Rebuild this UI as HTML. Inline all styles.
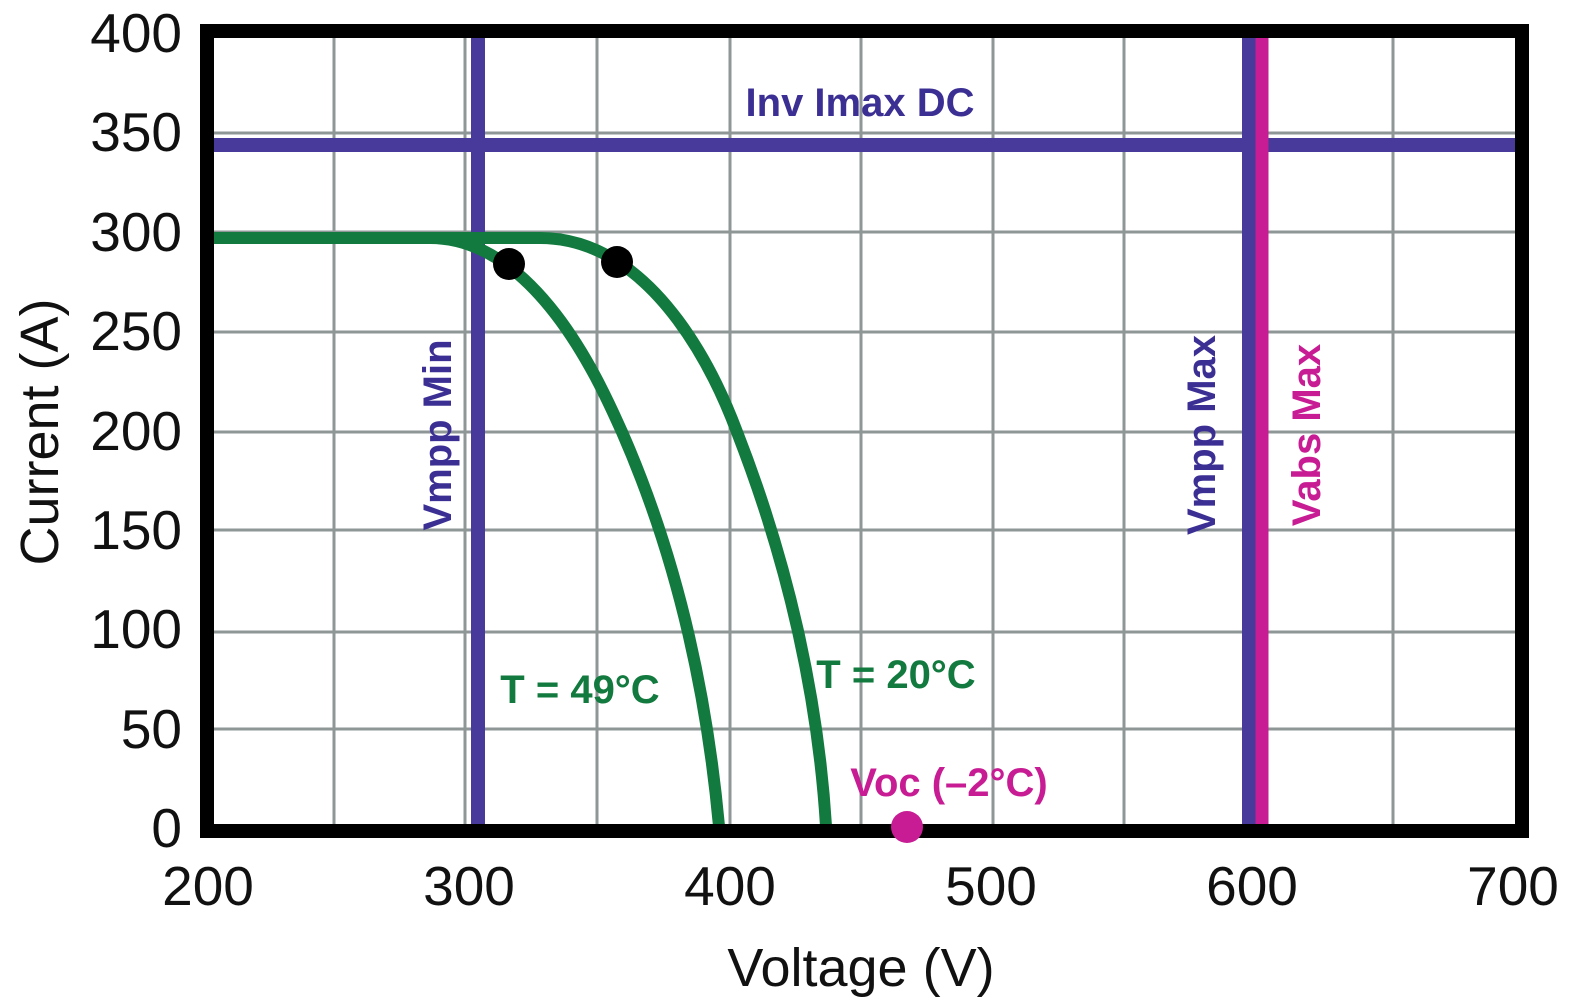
<!DOCTYPE html>
<html><head><meta charset="utf-8"><style>
html,body{margin:0;padding:0;background:#fff;}
svg{display:block;}
</style></head><body>
<svg width="1575" height="1004" viewBox="0 0 1575 1004" xmlns="http://www.w3.org/2000/svg">
<rect width="1575" height="1004" fill="#fff"/>
<g stroke="#8e9696" stroke-width="3">
<line x1="334" y1="38" x2="334" y2="824"/>
<line x1="465" y1="38" x2="465" y2="824"/>
<line x1="597" y1="38" x2="597" y2="824"/>
<line x1="730" y1="38" x2="730" y2="824"/>
<line x1="861" y1="38" x2="861" y2="824"/>
<line x1="993" y1="38" x2="993" y2="824"/>
<line x1="1124" y1="38" x2="1124" y2="824"/>
<line x1="1393" y1="38" x2="1393" y2="824"/>
<line x1="214" y1="133" x2="1515" y2="133"/>
<line x1="214" y1="232" x2="1515" y2="232"/>
<line x1="214" y1="332" x2="1515" y2="332"/>
<line x1="214" y1="432" x2="1515" y2="432"/>
<line x1="214" y1="530" x2="1515" y2="530"/>
<line x1="214" y1="632" x2="1515" y2="632"/>
<line x1="214" y1="729" x2="1515" y2="729"/>
</g>
<g stroke="#473a9b" stroke-width="14">
<line x1="214" y1="145" x2="1515" y2="145"/>
<line x1="478" y1="38" x2="478" y2="824"/>
<line x1="1249" y1="38" x2="1249" y2="824"/>
</g>
<line x1="1262" y1="38" x2="1262" y2="824" stroke="#c71c93" stroke-width="13"/>
<g fill="none" stroke="#127a3e" stroke-width="12" stroke-linejoin="round">
<path d="M214,238 L430,238 C540,238 605,395 622,432 C679,562 707,696 719,826"/>
<path d="M214,238 L540,238 C660,238 722,392 737,432 C787.7,562 818,696 826,826"/>
</g>
<circle cx="509" cy="264" r="16" fill="#000"/>
<circle cx="617" cy="262" r="16" fill="#000"/>
<rect x="207" y="31" width="1315" height="800" fill="none" stroke="#000" stroke-width="14"/>
<circle cx="907" cy="827" r="16" fill="#c71c93"/>
<g font-family="Liberation Sans, Arial, sans-serif" font-weight="bold" font-size="40">
<text x="860" y="116" text-anchor="middle" fill="#3b2f94">Inv Imax DC</text>
<text transform="translate(451,435) rotate(-90)" text-anchor="middle" fill="#3b2f94">Vmpp Min</text>
<text transform="translate(1215,435) rotate(-90)" text-anchor="middle" fill="#3b2f94">Vmpp Max</text>
<text transform="translate(1320,435) rotate(-90)" text-anchor="middle" fill="#c71c93">Vabs Max</text>
<text x="580" y="703" text-anchor="middle" fill="#127a3e">T = 49°C</text>
<text x="896" y="688" text-anchor="middle" fill="#127a3e">T = 20°C</text>
<text x="949" y="796" text-anchor="middle" fill="#c71c93">Voc (–2°C)</text>
</g>
<g font-family="Liberation Sans, Arial, sans-serif" font-size="55" fill="#111" text-anchor="end">
<text x="182" y="52">400</text>
<text x="182" y="151">350</text>
<text x="182" y="251">300</text>
<text x="182" y="350">250</text>
<text x="182" y="450">200</text>
<text x="182" y="549">150</text>
<text x="182" y="648">100</text>
<text x="182" y="748">50</text>
<text x="182" y="847">0</text>
</g>
<g font-family="Liberation Sans, Arial, sans-serif" font-size="55" fill="#111" text-anchor="middle">
<text x="208" y="905">200</text>
<text x="469" y="905">300</text>
<text x="730" y="905">400</text>
<text x="991" y="905">500</text>
<text x="1252" y="905">600</text>
<text x="1513" y="905">700</text>
<text x="861" y="986" font-size="54">Voltage (V)</text>
<text transform="translate(58,432) rotate(-90)" font-size="54">Current (A)</text>
</g>
</svg>
</body></html>
